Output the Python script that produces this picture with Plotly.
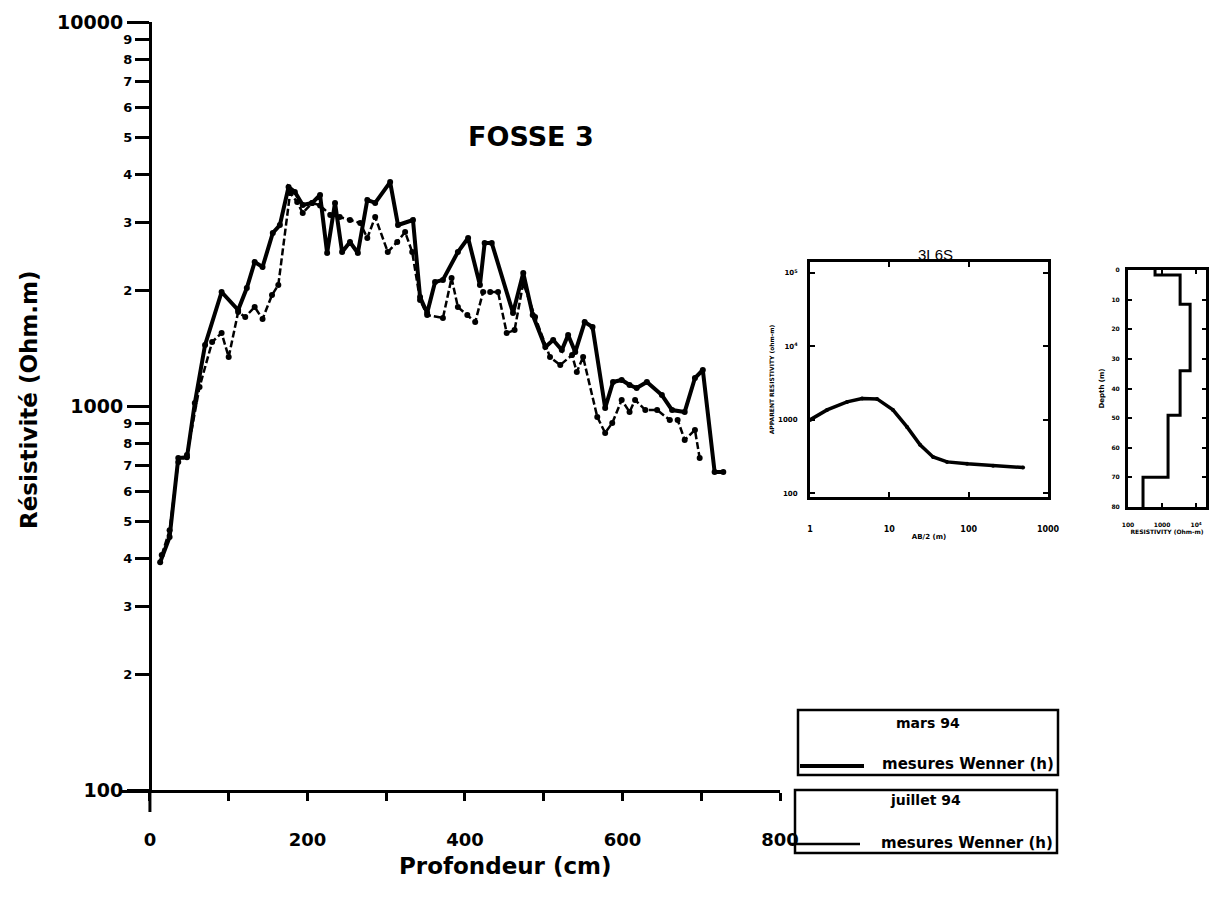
import plotly.graph_objects as go

# Profil de résistivité, fosse 3 — mesures Wenner (h), mars 94
depth_mars = [13, 25, 36, 47, 57, 70, 91, 112, 123, 133, 143, 156, 165, 176, 184,
              194, 206, 216, 225, 235, 244, 254, 264, 276, 286, 305, 315, 334, 343, 352,
              362, 372, 391, 404, 419, 425, 434, 461, 474, 486, 502, 512, 523, 531, 540,
              552, 562, 578, 588, 599, 609, 618, 631, 650, 663, 679, 692, 702, 717, 728]
rho_mars = [392, 456, 732, 735, 1018, 1442, 1981, 1778, 2029, 2371, 2301, 2822, 2960, 3718, 3610,
            3337, 3380, 3544, 2503, 3380, 2518, 2674, 2503, 3440, 3380, 3830, 2960, 3050, 1922, 1747,
            2103, 2130, 2518, 2738, 2066, 2659, 2659, 1747, 2220, 1726, 1424, 1485, 1399, 1531, 1382,
            1654, 1606, 988, 1155, 1169, 1134, 1114, 1155, 1068, 976, 965, 1183, 1241, 673, 673]

# Même profil, juillet 94
depth_juil = [15, 25, 36, 47, 63, 79, 91, 100, 112, 121, 133, 143, 155, 163, 178, 187,
              194, 206, 216, 229, 241, 254, 267, 276, 286, 302, 314, 324, 333, 343, 352,
              372, 383, 391, 403, 413, 423, 432, 442, 453, 463, 474, 489, 508, 521, 536,
              542, 550, 568, 578, 587, 599, 609, 616, 629, 644, 660, 670, 679, 692, 698]
rho_juil = [409, 475, 715, 745, 1121, 1468, 1549, 1341, 1756, 1706, 1810, 1685, 1945, 2066, 3589, 3397,
            3182, 3380, 3330, 3143, 3106, 3050, 2997, 2738, 3106, 2518, 2674, 2839, 2518, 1888, 1726,
            1695, 2154, 1810, 1726, 1654, 1981, 1981, 1981, 1549, 1577, 2091, 1706, 1341, 1279, 1358,
            1226, 1341, 936, 851, 903, 1037, 965, 1037, 976, 976, 920, 920, 816, 866, 732]

# Axe des résistivités : décades et graduations intermédiaires
major_vals = [100, 1000, 10000]
major_text = ["100", "1000", "10000"]
minor_vals = [200, 300, 400, 500, 600, 700, 800, 900,
              2000, 3000, 4000, 5000, 6000, 7000, 8000, 9000]
minor_text = ["2", "3", "4", "5", "6", "7", "8", "9"] * 2
depth_ticks = [0, 200, 400, 600, 800]
depth_minor = [100, 300, 500, 700]

# Sondage électrique 3L6S : résistivité apparente
ab2 = [1, 1.64, 2.93, 4.53, 7.0, 11.1, 16.7, 24.4, 35.6, 53.4, 95.5, 203, 485]
rho_app = [1000, 1368, 1758, 1960, 1930, 1368, 803, 457, 313, 268, 252, 238, 225]

# Modèle tabulaire interprété
layer_top = [0, 1.7, 11.6, 34, 49, 70]
layer_bottom = [1.7, 11.6, 34, 49, 70, 80]
layer_rho = [622, 3390, 6660, 3390, 1500, 276]

W, H = 1218, 898
FONT = "DejaVu Sans"


def fx(px):
    return px / W


def fy(py):
    return 1 - py / H


step_x, step_y = [], []
for top, bot, rho in zip(layer_top, layer_bottom, layer_rho):
    step_x += [rho, rho]
    step_y += [top, bot]

fig = go.Figure()

fig.add_trace(go.Scatter(
    x=depth_mars, y=rho_mars, xaxis="x", yaxis="y", mode="lines+markers",
    line=dict(color="black", width=4), marker=dict(color="black", size=6),
    name="mars 94"))
fig.add_trace(go.Scatter(
    x=depth_juil, y=rho_juil, xaxis="x", yaxis="y4", mode="lines+markers",
    line=dict(color="black", width=2.5, dash="7px,3px"), marker=dict(color="black", size=6),
    name="juillet 94"))
fig.add_trace(go.Scatter(
    x=ab2, y=rho_app, xaxis="x2", yaxis="y2", mode="lines+markers",
    line=dict(color="black", width=3.5), marker=dict(color="black", size=4),
    name="3L6S"))
fig.add_trace(go.Scatter(
    x=step_x, y=step_y, xaxis="x3", yaxis="y3", mode="lines",
    line=dict(color="black", width=3), name="modèle"))

bold = dict(family=FONT, color="black", weight="bold")

fig.update_layout(
    width=W, height=H, margin=dict(l=0, r=0, t=0, b=0, autoexpand=False),
    paper_bgcolor="white", plot_bgcolor="white", showlegend=False,
    xaxis=dict(domain=[fx(120), fx(780)], range=[-38, 800], anchor="y",
               showline=True, linewidth=3, linecolor="black", showgrid=False, zeroline=False,
               ticks="outside", ticklen=8, tickwidth=2.5, tickcolor="black",
               tickvals=depth_ticks, ticklabelstandoff=23,
               minor=dict(tickvals=depth_minor, ticks="outside", ticklen=8, tickwidth=2.5,
                          tickcolor="black", showgrid=False),
               tickfont=dict(size=18, **bold)),
    yaxis=dict(type="log", domain=[fy(790), fy(22)], range=[2, 4], anchor="free",
               position=fx(150), showline=True, linewidth=3, linecolor="black",
               showgrid=False, zeroline=False, ticks="outside", ticklen=22, tickwidth=2.5,
               tickcolor="black", tickvals=major_vals, ticktext=major_text,
               tickfont=dict(size=19, **bold)),
    yaxis4=dict(type="log", overlaying="y", range=[2, 4], anchor="free", position=fx(150),
                side="left", showline=False, showgrid=False, zeroline=False,
                ticks="outside", ticklen=15, tickwidth=2.5, tickcolor="black",
                tickvals=minor_vals, ticktext=minor_text, tickfont=dict(size=13, **bold)),
    xaxis2=dict(type="log", domain=[fx(810), fx(1048)], range=[0, 3], anchor="y2",
                showline=True, mirror="ticks", linewidth=3, linecolor="black",
                showgrid=False, zeroline=False, ticks="inside", ticklen=5, tickwidth=2,
                tickcolor="black", tickvals=[1, 10, 100, 1000],
                ticktext=["1", "10", "100", "1000"], ticklabelstandoff=22,
                tickfont=dict(size=8, **bold),
                title=dict(text="AB/2 (m)", font=dict(size=7, **bold), standoff=2)),
    yaxis2=dict(type="log", domain=[fy(497), fy(262)], range=[1.95, 5.15], anchor="x2",
                showline=True, mirror="ticks", linewidth=3, linecolor="black",
                showgrid=False, zeroline=False, ticks="inside", ticklen=5, tickwidth=2,
                tickcolor="black", tickvals=[100, 1000, 10000, 100000],
                ticktext=["100", "1000", "10<sup>4</sup>", "10<sup>5</sup>"],
                ticklabelstandoff=8, tickfont=dict(size=7, **bold),
                title=dict(text="APPARENT RESISTIVITY (ohm-m)", font=dict(size=6, **bold),
                           standoff=4)),
    xaxis3=dict(type="log", domain=[fx(1128), fx(1206)], range=[2, 4.29], anchor="y3",
                showline=True, mirror="ticks", linewidth=3, linecolor="black",
                showgrid=False, zeroline=False, ticks="inside", ticklen=4, tickwidth=2,
                tickcolor="black", tickvals=[100, 1000, 10000],
                ticktext=["100", "1000", "10<sup>4</sup>"], ticklabelstandoff=10,
                tickfont=dict(size=6, **bold),
                title=dict(text="RESISTIVITY (Ohm-m)", font=dict(size=6, **bold), standoff=2)),
    yaxis3=dict(domain=[fy(507), fy(270)], range=[80, 0], anchor="x3",
                showline=True, mirror="ticks", linewidth=3, linecolor="black",
                showgrid=False, zeroline=False, ticks="inside", ticklen=4, tickwidth=2,
                tickcolor="black", dtick=10, ticklabelstandoff=4,
                tickfont=dict(size=6, **bold),
                title=dict(text="Depth (m)", font=dict(size=7, **bold), standoff=6)),
)

# Prolongement de l'axe des résistivités sous l'axe des profondeurs
fig.add_shape(type="line", xref="x", yref="paper", x0=0, x1=0, y0=fy(812), y1=fy(790),
              line=dict(color="black", width=3))


def label(text, px, py, size, anchor="center", angle=0, font=None):
    fig.add_annotation(text=text, xref="paper", yref="paper", x=fx(px), y=fy(py),
                       xanchor=anchor, yanchor="middle", textangle=angle,
                       showarrow=False, font=font or dict(size=size, **bold))


# Titres
label("FOSSE 3", 531, 137, 27)
label("Résistivité (Ohm.m)", 29, 400, 23, angle=-90)
label("Profondeur (cm)", 505, 866, 23)
label("3L6S", 936, 254, 15, font=dict(size=15, family="Liberation Sans", color="black"))

# Cartouches de légende
legend_boxes = [
    dict(x0=798, x1=1058, y0=710, y1=775, title="mars 94", tx=928, ty=723,
         lx0=800, lx1=864, ly=766, lw=4, ly_text=764),
    dict(x0=795, x1=1057, y0=790, y1=853, title="juillet 94", tx=925, ty=800,
         lx0=790, lx1=860, ly=844, lw=2.5, ly_text=843),
]
for b in legend_boxes:
    fig.add_shape(type="rect", xref="paper", yref="paper",
                  x0=fx(b["x0"]), x1=fx(b["x1"]), y0=fy(b["y1"]), y1=fy(b["y0"]),
                  line=dict(color="black", width=2.5), fillcolor="rgba(0,0,0,0)")
    fig.add_shape(type="line", xref="paper", yref="paper",
                  x0=fx(b["lx0"]), x1=fx(b["lx1"]), y0=fy(b["ly"]), y1=fy(b["ly"]),
                  line=dict(color="black", width=b["lw"]))
    label(b["title"], b["tx"], b["ty"], 14)
    label("mesures Wenner (h)", b["x1"] - 2, b["ly_text"], 15, anchor="right")

fig.write_html("out.html")
